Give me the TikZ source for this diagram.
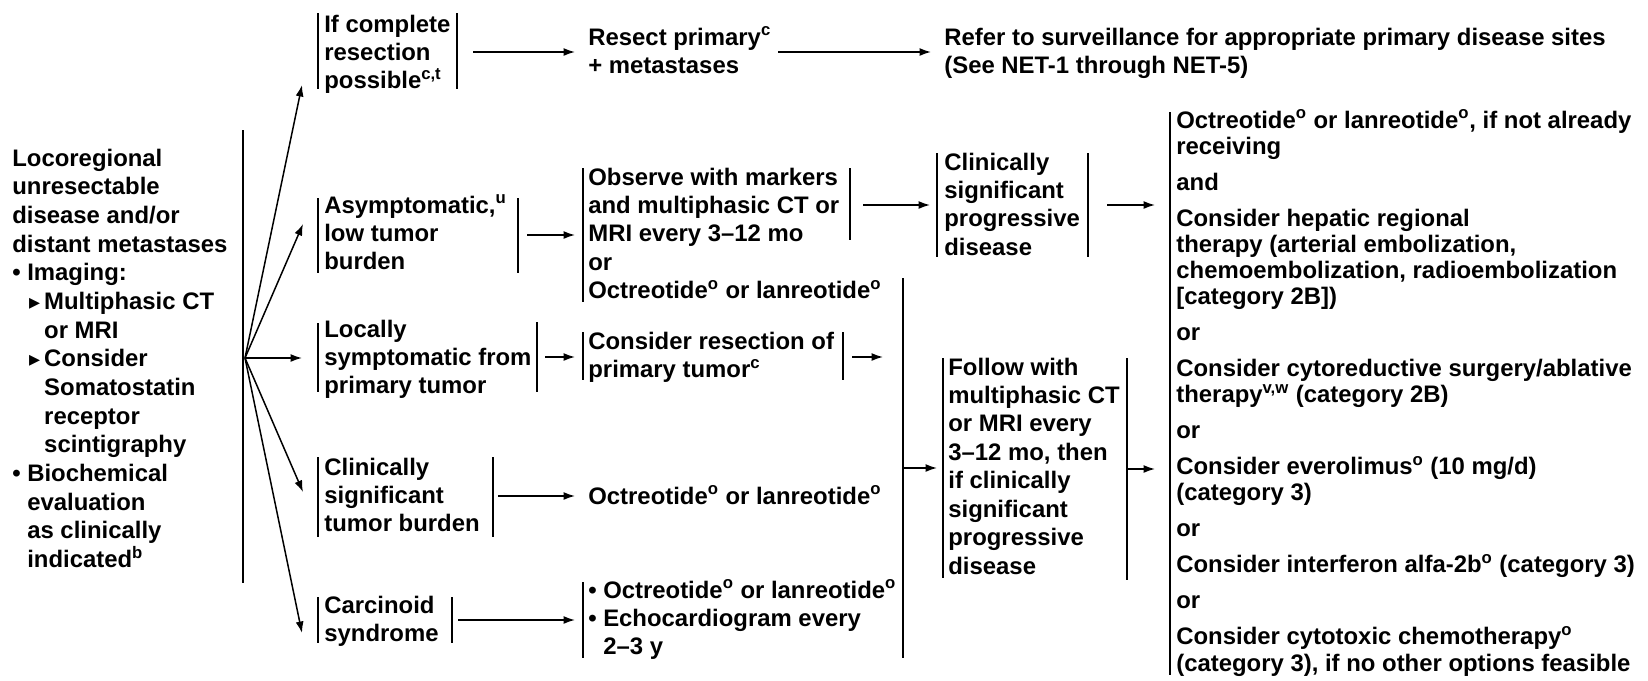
\documentclass[tikz,border=0pt]{standalone}
\usepackage{fontspec}
\setmainfont{Liberation Sans}
\newfontfamily\symf{DejaVu Sans}
\usetikzlibrary{arrows.meta}
\newcommand\ml[1]{\begin{tabular}[t]{@{}l@{}}#1\end{tabular}}
\newcommand\sps[1]{\smash{\textsuperscript{#1}}}
\newcommand\bul{\makebox[8.5pt][l]{•}}
\newcommand\tri{\hspace*{9.6pt}\makebox[8.54pt][l]{{\symf\fontsize{12.5}{12.5}\selectfont ▸}}}
\newcommand\ind{\hspace*{18.14pt}}
\newcommand\indb{\hspace*{8.5pt}}
\begin{document}
\begin{tikzpicture}[x=0.02cm,y=-0.02cm,
  txt/.style={anchor=base west,inner sep=0pt,font=\fontsize{13.6}{16.2}\selectfont\bfseries},
  ltxt/.style={txt,font=\fontsize{13.6}{16.33}\selectfont\bfseries},
  rtxt/.style={txt,font=\fontsize{13.6}{14.91}\selectfont\bfseries},
  bar/.style={line width=0.85pt},
  arr/.style={line width=0.85pt,-{Latex[length=2.3mm,width=1.6mm]}}]
\useasboundingbox[fill=white] (0,0) rectangle (1648,680);

% ---------- text nodes ----------
\node[ltxt] (L) at (12,166) {\ml{Locoregional\\unresectable\\disease and/or\\distant metastases\\
\bul Imaging:\\\tri Multiphasic CT\\\ind or MRI\\\tri Consider\\\ind Somatostatin\\\ind receptor\\\ind scintigraphy\\
\bul Biochemical\\\indb evaluation\\\indb as clinically\\\indb indicated\sps{b}}};

\node[txt] (b1) at (324,32) {\ml{If complete\\resection\\possible\sps{c,t}}};
\node[txt] (b1n) at (588,45) {\ml{Resect primary\sps{c}\\+ metastases}};
\node[txt] (b1r) at (944,45) {\ml{Refer to surveillance for appropriate primary disease sites\\(See NET-1 through NET-5)}};

\node[txt] (b2) at (324,213) {\ml{Asymptomatic,\sps{u}\\low tumor\\burden}};
\node[txt] (b3) at (588,185) {\ml{Observe with markers\\and multiphasic CT or\\MRI every 3–12 mo\\or\\Octreotide\sps{o} or lanreotide\sps{o}}};
\node[txt] (b4) at (944,170) {\ml{Clinically\\significant\\progressive\\disease}};

\node[txt] (b5) at (324,337) {\ml{Locally\\symptomatic from\\primary tumor}};
\node[txt] (b6) at (588,349) {\ml{Consider resection of\\primary tumor\sps{c}}};

\node[txt] (b7) at (324,475) {\ml{Clinically\\significant\\tumor burden}};
\node[txt] (b7n) at (588,504) {Octreotide\sps{o} or lanreotide\sps{o}};

\node[txt] (b8) at (324,613) {\ml{Carcinoid\\syndrome}};
\node[txt] (b9) at (588,598) {\ml{\bul Octreotide\sps{o} or lanreotide\sps{o}\\\bul Echocardiogram every\\\indb 2–3 y}};

\node[txt] (b10) at (948,375) {\ml{Follow with\\multiphasic CT\\or MRI every\\3–12 mo, then\\if clinically\\significant\\progressive\\disease}};

\node[rtxt] (R) at (1176,128) {\ml{Octreotide\sps{o} or lanreotide\sps{o}, if not already\\receiving\\[5.56pt]
and\\[5.56pt]
Consider hepatic regional\\therapy (arterial embolization,\\chemoembolization, radioembolization\\{[category 2B]})\\[5.56pt]
or\\[5.56pt]
Consider cytoreductive surgery/ablative\\therapy\sps{v,w} (category 2B)\\[5.56pt]
or\\[5.56pt]
Consider everolimus\sps{o} (10 mg/d)\\(category 3)\\[5.56pt]
or\\[5.56pt]
Consider interferon alfa-2b\sps{o} (category 3)\\[5.56pt]
or\\[5.56pt]
Consider cytotoxic chemotherapy\sps{o}\\(category 3), if no other options feasible}};

% ---------- bracket bars ----------
\draw[bar] (243,130) -- (243,583);
\draw[bar] (318,13) -- (318,89) (457,13) -- (457,89);
\draw[bar] (318,198) -- (318,273) (518,198) -- (518,273);
\draw[bar] (583,168) -- (583,302) (850,168) -- (850,240);
\draw[bar] (937,153) -- (937,257) (1088,153) -- (1088,257);
\draw[bar] (318,323) -- (318,392) (537,322) -- (537,392);
\draw[bar] (583,332) -- (583,380) (843,332) -- (843,380);
\draw[bar] (318,457) -- (318,537) (493,457) -- (493,537);
\draw[bar] (318,597) -- (318,643) (452,597) -- (452,643);
\draw[bar] (583,582) -- (583,658);
\draw[bar] (903,278) -- (903,658);
\draw[bar] (943,358) -- (943,578) (1127,358) -- (1127,580);
\draw[bar] (1170,112) -- (1170,675);

% ---------- connector end points ----------
\coordinate (F) at (245,358);
\coordinate (t1) at (302,85);
\coordinate (t2) at (303,224);
\coordinate (t5) at (302,358);
\coordinate (t7) at (303,492);
\coordinate (t8) at (302,633);
\coordinate (s1) at (473,52);   \coordinate (e1) at (575,52);
\coordinate (s1n) at (778,52);  \coordinate (e1n) at (931,52);
\coordinate (s2) at (527,235);  \coordinate (e2) at (575,235);
\coordinate (s3) at (863,205);  \coordinate (e3) at (930,205);
\coordinate (s4) at (1107,205); \coordinate (e4) at (1155,205);
\coordinate (s5) at (545,357);  \coordinate (e5) at (575,357);
\coordinate (s6) at (852,357);  \coordinate (e6) at (883,357);
\coordinate (s7) at (498,496);  \coordinate (e7) at (575,496);
\coordinate (s8) at (458,620);  \coordinate (e8) at (575,620);
\coordinate (sc) at (903,468);  \coordinate (ec) at (937,468);
\coordinate (s10) at (1127,469); \coordinate (e10) at (1155,469);

% ---------- connectors ----------
\draw[arr] (F) -- (t1);
\draw[arr] (F) -- (t2);
\draw[arr] (F) -- (t5);
\draw[arr] (F) -- (t7);
\draw[arr] (F) -- (t8);
\draw[arr] (s1) -- (e1);
\draw[arr] (s1n) -- (e1n);
\draw[arr] (s2) -- (e2);
\draw[arr] (s3) -- (e3);
\draw[arr] (s4) -- (e4);
\draw[arr] (s5) -- (e5);
\draw[arr] (s6) -- (e6);
\draw[arr] (s7) -- (e7);
\draw[arr] (s8) -- (e8);
\draw[arr] (sc) -- (ec);
\draw[arr] (s10) -- (e10);
\end{tikzpicture}
\end{document}
